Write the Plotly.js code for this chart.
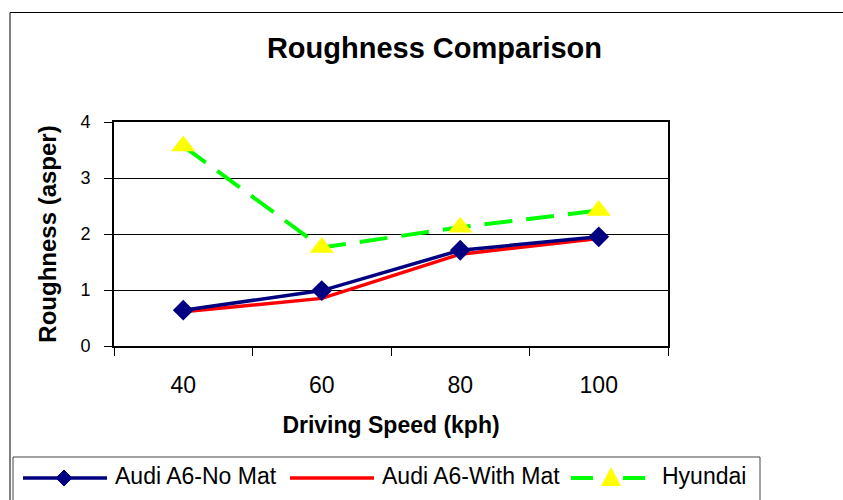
<!DOCTYPE html>
<html>
<head>
<meta charset="utf-8">
<script src="https://cdn.plot.ly/plotly-3.0.1.min.js"></script>
<style>html,body{margin:0;padding:0;background:#fff;}#chart{width:843px;height:500px;}</style>
</head>
<body>
<div id="chart"></div>
<script>
// Data
var speeds = ['40', '60', '80', '100'];
var audiNoMat = [0.64, 0.99, 1.71, 1.95];
var audiWithMat = [0.61, 0.85, 1.64, 1.92];
var hyundai = [3.57, 1.76, 2.12, 2.42];
var yTicks = [0, 1, 2, 3, 4];
var seriesNames = ['Audi A6-No Mat', 'Audi A6-With Mat', 'Hyundai'];

var FONT = '"Liberation Sans", Arial, sans-serif';
var NAVY = '#000080', RED = '#FF0000', GREEN = '#00FF00', YELLOW = '#FFFF00';

// plot area in pixels: x 114..668, y 122..346
function px(x) { return (x - 114) / 554; }
function py(y) { return (346 - y) / 224; }

var traces = [
  {
    type: 'scatter', mode: 'lines', name: seriesNames[1],
    x: speeds, y: audiWithMat, showlegend: false,
    line: {color: RED, width: 3.5}
  },
  {
    type: 'scatter', mode: 'lines+markers', name: seriesNames[0],
    x: speeds, y: audiNoMat, showlegend: false,
    line: {color: NAVY, width: 3.5},
    marker: {symbol: 'diamond', size: 16, color: NAVY}
  },
  {
    type: 'scatter', mode: 'lines+markers', name: seriesNames[2],
    x: speeds, y: hyundai, showlegend: false,
    line: {color: GREEN, width: 4, dash: '28px,14px'},
    marker: {symbol: 'triangle-up', size: 21, color: YELLOW}
  }
];

var legY = py(478);
var shapes = [
  // outer chart-area border
  {type: 'rect', xref: 'paper', yref: 'paper', x0: px(10), x1: px(860), y0: py(515), y1: py(12.5),
   line: {color: '#000', width: 1}, fillcolor: 'rgba(0,0,0,0)', layer: 'below'},
  // legend box
  {type: 'rect', xref: 'paper', yref: 'paper', x0: px(13), x1: px(760), y0: py(520), y1: py(457),
   line: {color: '#444', width: 1}, fillcolor: '#FFFFFF', layer: 'above'},
  // legend samples
  {type: 'line', xref: 'paper', yref: 'paper', x0: px(23), x1: px(107), y0: legY, y1: legY,
   line: {color: NAVY, width: 3.5}},
  {type: 'path', xref: 'paper', yref: 'paper', xsizemode: 'pixel', ysizemode: 'pixel',
   xanchor: px(64), yanchor: legY, path: 'M0,8 L8,0 L0,-8 L-8,0 Z',
   fillcolor: NAVY, line: {color: NAVY, width: 1}},
  {type: 'line', xref: 'paper', yref: 'paper', x0: px(290), x1: px(374), y0: legY, y1: legY,
   line: {color: RED, width: 3.5}},
  {type: 'line', xref: 'paper', yref: 'paper', x0: px(571), x1: px(645), y0: legY, y1: legY,
   line: {color: GREEN, width: 4, dash: '22px,30px'}},
  {type: 'path', xref: 'paper', yref: 'paper', xsizemode: 'pixel', ysizemode: 'pixel',
   xanchor: px(611), yanchor: legY, path: 'M-10,-8 L10,-8 L0,11 Z',
   fillcolor: YELLOW, line: {color: YELLOW, width: 0}}
];

var legendTextX = [113, 380, 660];
var annotations = seriesNames.map(function (n, i) {
  return {text: n, xref: 'paper', yref: 'paper', x: px(legendTextX[i]), y: py(476),
          xanchor: 'left', yanchor: 'middle', showarrow: false,
          font: {family: FONT, size: 23, color: '#000'}};
});

var layout = {
  width: 843, height: 500,
  margin: {l: 114, r: 175, t: 122, b: 154, pad: 0, autoexpand: false},
  paper_bgcolor: '#FFFFFF', plot_bgcolor: '#FFFFFF',
  font: {family: FONT, color: '#000000'},
  showlegend: false,
  title: {
    text: '<b>Roughness Comparison</b>',
    font: {family: FONT, size: 29, color: '#000'},
    xref: 'paper', x: 0.5785, xanchor: 'center',
    yref: 'container', y: 0.904, yanchor: 'middle'
  },
  xaxis: {
    type: 'category', categoryorder: 'array', categoryarray: speeds,
    range: [-0.5, 3.5], fixedrange: true, automargin: false,
    showgrid: false, zeroline: false,
    showline: true, linecolor: '#000', linewidth: 2, mirror: true,
    ticks: 'outside', tickson: 'boundaries', ticklen: 8, tickcolor: '#000', tickwidth: 1,
    ticklabelstandoff: 17,
    tickfont: {family: FONT, size: 23, color: '#000'},
    title: {text: '<b>Driving Speed (kph)</b>', font: {family: FONT, size: 23, color: '#000'}, standoff: 20}
  },
  yaxis: {
    range: [0, 4], tickvals: yTicks, fixedrange: true, automargin: false,
    showgrid: true, gridcolor: '#000', gridwidth: 1, zeroline: false,
    showline: true, linecolor: '#000', linewidth: 2, mirror: true,
    ticks: 'outside', ticklen: 8, tickcolor: '#000', tickwidth: 1,
    ticklabelstandoff: 10,
    tickfont: {family: FONT, size: 18, color: '#000'},
    title: {text: '<b>Roughness (asper)</b>', font: {family: FONT, size: 24, color: '#000'}, standoff: 17}
  },
  shapes: shapes,
  annotations: annotations
};

Plotly.newPlot('chart', traces, layout, {displayModeBar: false, staticPlot: true});
</script>
</body>
</html>
